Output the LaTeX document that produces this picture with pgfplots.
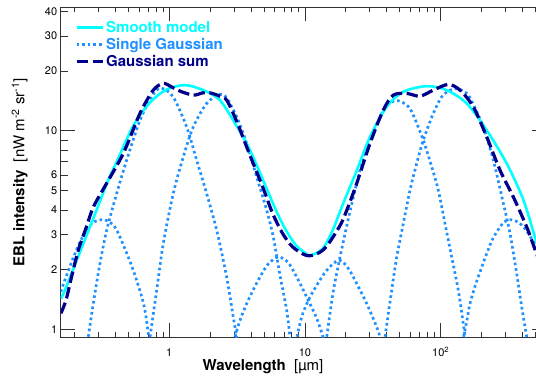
\documentclass[border=0pt]{standalone}
\usepackage{fontspec}
\setmainfont{TeX Gyre Heros}
\usepackage{pgfplots}
\pgfplotsset{compat=1.18}
\definecolor{smoothc}{RGB}{0,255,255}
\definecolor{gaussc}{RGB}{30,144,255}
\definecolor{sumc}{RGB}{0,0,139}
\definecolor{axc}{RGB}{50,50,50}
\tikzset{
  smoothline/.style={smoothc, line width=2.6pt},
  gaussline/.style={gaussc, line width=2.7pt, dash pattern=on 2.6pt off 3.0pt},
  sumline/.style={sumc, line width=3.2pt, dash pattern=on 11.5pt off 4.5pt},
}
\pgfplotstableread{
x y
0.159 1.43
0.1702 1.578
0.1995 2.077
0.2399 2.856
0.2951 4.088
0.3548 5.649
0.4096 6.977
0.5428 10.60
0.7208 13.88
0.9568 16.15
1.305 16.99
1.781 16.03
2.364 14.27
3.111 10.68
3.675 8.80
4.354 6.852
5.159 5.224
6.113 3.988
7.244 3.162
8.585 2.658
10.17 2.414
11.07 2.366
13.50 2.558
16.0 3.162
18.96 4.25
24.04 6.3
30.13 9.328
40.01 13.21
53.03 15.72
78.86 16.79
110.7 16.03
155.5 13.74
218.3 10.08
306.5 6.852
406.2 4.5
503.9 2.8
540 2.4
}\smoothtab
\pgfplotstableread{
x y
0.159 1.208
0.1733 1.404
0.1918 1.877
0.2135 2.507
0.2432 3.236
0.2754 4.128
0.3358 5.268
0.4581 7.694
0.6081 12.24
0.7625 16.03
0.9033 17.33
1.047 16.6
1.199 15.85
1.503 15.13
1.771 15.54
1.994 15.54
2.364 14.95
2.649 14.27
3.111 11.32
3.886 7.694
4.878 5.224
5.781 3.838
6.851 3.043
8.118 2.605
10.17 2.366
12.05 2.394
14.28 2.605
17.89 3.286
20.05 3.896
24.04 5.435
30.13 8.642
37.76 12.72
44.75 15.13
56.17 15.43
70.39 14.95
88.19 16.03
113.8 17.13
138.8 16.03
173.9 13.21
218.3 9.328
273.5 6.341
342.8 4.653
430.3 3.286
503.9 2.450
540 2.18
}\sumtab
\pgfplotstableread{
x y
0.159 1.55
0.1656 1.69
0.1854 2.08
0.2018 2.41
0.2198 2.76
0.2530 3.27
0.2835 3.50
0.3263 3.58
0.3656 3.47
0.3984 3.274
0.4332 2.926
0.4987 2.32
0.5428 1.99
0.5908 1.671
0.6433 1.372
0.6733 1.167
0.7004 0.955
0.7208 0.834
}\gA
\pgfplotstableread{
x y
0.2466 0.81
0.2530 0.918
0.2754 1.352
0.3085 2.149
0.3456 3.162
0.4096 4.839
0.4854 7.119
0.6081 11.3
0.7625 15.3
0.8790 16.4
1.070 14.8
1.343 10.47
1.592 7.119
1.886 4.839
2.236 3.162
2.649 1.840
2.962 1.157
3.139 0.918
3.198 0.81
}\gB
\pgfplotstableread{
x y
0.6945 0.81
0.7208 0.918
0.8074 1.577
0.9033 2.710
1.070 4.839
1.268 7.396
1.503 10.47
1.886 13.74
2.364 15.30
2.649 14.61
3.139 11.77
3.720 8.642
4.407 5.867
5.223 3.988
5.840 2.926
6.545 1.877
7.332 1.251
7.754 0.918
7.885 0.81
}\gC
\pgfplotstableread{
x y
2.998 0.81
3.050 0.915
3.319 1.114
3.720 1.352
4.139 1.577
4.660 1.840
5.338 2.132
6.357 2.320
7.494 2.182
8.687 1.840
10.29 1.459
12.20 1.140
13.57 0.915
13.92 0.81
}\gD
\pgfplotstableread{
x y
8.511 0.81
8.730 0.915
9.456 1.157
10.58 1.404
12.20 1.671
14.45 1.989
17.60 2.233
20.05 2.108
22.70 1.840
28.50 1.352
33.77 1.031
35.71 0.915
36.31 0.81
}\gE
\pgfplotstableread{
x y
14.16 0.81
14.45 0.915
16.08 1.523
18.11 2.312
22.70 4.637
28.50 8.278
35.71 11.72
40.90 13.63
48.45 14.19
57.41 13.32
62.84 12.0
74.44 8.979
85.85 6.588
96.0 5.028
107.6 3.417
120.5 2.320
134.8 1.577
146.7 1.072
151.1 0.915
153.1 0.81
}\gF
\pgfplotstableread{
x y
38.21 0.81
38.86 0.915
43.54 1.577
47.41 2.320
53.03 3.417
59.39 5.028
66.54 6.852
74.44 8.979
88.19 12.24
101.7 14.83
117.1 16.03
131.9 16.31
151.1 15.67
164.4 14.67
206.0 10.47
244.2 7.119
289.3 4.325
324.2 3.054
363.1 1.914
395.4 1.300
430.3 0.918
439.9 0.81
}\gG
\pgfplotstableread{
x y
143.5 0.81
147.2 0.915
155.5 1.10
164.4 1.352
179.0 1.65
194.8 1.95
218.3 2.414
244.2 2.90
287.8 3.44
324.2 3.571
371.3 3.48
418.1 3.22
463.3 2.90
503.9 2.60
540 2.38
}\gH
\begin{document}
\begin{tikzpicture}
\begin{loglogaxis}[
  name=ax,
  scale only axis,
  width=485.6pt, height=330.3pt,
  xmin=0.1585, xmax=600, ymin=0.915, ymax=42,
  axis line style={axc, line width=0.9pt},
  every tick/.style={axc, line width=0.9pt},
  tick align=inside,
  major tick length=14pt,
  minor tick length=5pt,
  xtick={1,10,100},
  xticklabels={1,10,10\textsuperscript{2}},
  minor xtick={0.2,0.3,0.4,0.5,0.6,0.7,0.8,0.9,2,3,4,5,6,7,8,9,20,30,40,50,60,70,80,90,200,300,400,500},
  ytick={1,10},
  yticklabels={1,10},
  extra y ticks={2,3,4,5,6,7,8,9,20,30,40},
  extra y tick labels={2,3,4,5,6,\mbox{},\mbox{},\mbox{},20,30,40},
  extra y tick style={major tick length=7pt},
  xticklabel style={font=\fontsize{11}{13}\selectfont, anchor=base, yshift=-19.4pt},
  yticklabel style={font=\fontsize{11}{13}\selectfont},
  legend style={at={(axis description cs:0.029,0.964)}, anchor=north west, draw=none, fill=none,
    inner sep=0pt, row sep=0.5pt, font=\bfseries\fontsize{15}{15}\selectfont},
  legend cell align=left,
  legend image code/.code={\draw[#1] (0pt,0pt) -- (26pt,0pt);},
]
\addlegendimage{smoothline}
\addlegendentry{\textcolor{smoothc}{Smooth model}}
\addlegendimage{gaussline}
\addlegendentry{\textcolor{gaussc}{Single Gaussian}}
\addlegendimage{sumline}
\addlegendentry{\textcolor{sumc}{Gaussian sum}}
\addplot[gaussline, smooth, forget plot] table {\gA};
\addplot[gaussline, smooth, forget plot] table {\gB};
\addplot[gaussline, smooth, forget plot] table {\gC};
\addplot[gaussline, smooth, forget plot] table {\gD};
\addplot[gaussline, smooth, forget plot] table {\gE};
\addplot[gaussline, smooth, forget plot] table {\gF};
\addplot[gaussline, smooth, forget plot] table {\gG};
\addplot[gaussline, smooth, forget plot] table {\gH};
\addplot[smoothline, smooth, forget plot] table {\smoothtab};
\addplot[sumline, smooth, forget plot] table {\sumtab};
\end{loglogaxis}
\node[rotate=90, anchor=base, font=\fontsize{15}{15}\selectfont] at ([xshift=-36.4pt]ax.west)
  {\textbf{EBL intensity}\ \ [nW m\textsuperscript{-2} sr\textsuperscript{-1}]};
\node[anchor=base, font=\fontsize{15}{15}\selectfont] at ([shift={(202.3pt,-33.4pt)}]ax.south west)
  {\textbf{Wavelength}\ \ [µm]};
\pgfresetboundingbox
\useasboundingbox ([shift={(-60.7pt,-39.7pt)}]ax.south west) rectangle ([shift={(-10.3pt,7pt)}]ax.north east);
\end{tikzpicture}
\end{document}
